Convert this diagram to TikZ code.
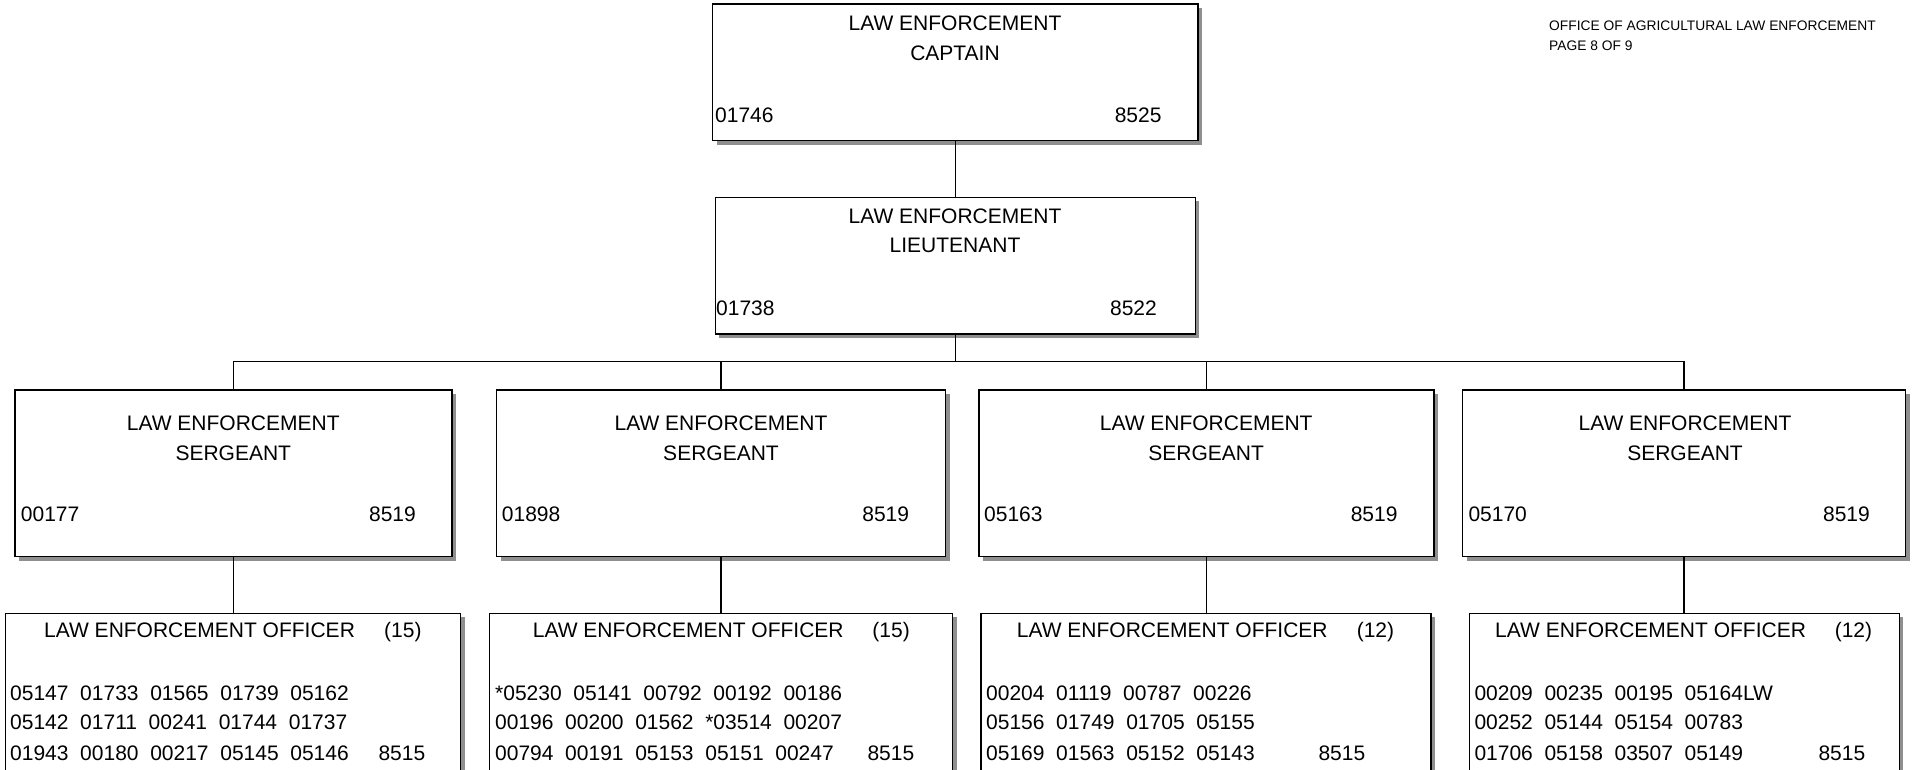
\documentclass[tikz,border=0pt]{standalone}
\usepackage{fontspec}
\setmainfont{Liberation Sans}
\usetikzlibrary{shadows}
\definecolor{shadowgray}{HTML}{8F8F8F}
\tikzset{
  orgbox/.style={draw, line width=1.5pt, fill=white, rectangle, inner sep=0pt,
    drop shadow={shadow xshift=4pt, shadow yshift=-4pt, fill=shadowgray, opacity=1}},
  lbl/.style={inner sep=0pt, font=\fontsize{21}{25}\selectfont},
  hdr/.style={inner sep=0pt, anchor=base west, font=\fontsize{13.8}{16}\selectfont},
  link/.style={line width=1.5pt},
}
\begin{document}
\begin{tikzpicture}[x=1pt, y=-1pt]
\useasboundingbox (0,0) rectangle (1915,769);

% ---------- boxes ----------
\node[orgbox, minimum width=485.3pt, minimum height=136.7pt] (cap) at (955.3,72.3) {};
\node[orgbox, minimum width=480pt,   minimum height=136.7pt] (lt)  at (955.3,265.7) {};

\node[orgbox, minimum width=436.6pt, minimum height=166.7pt] (s1) at (233.5,473.3) {};
\node[orgbox, minimum width=449pt,   minimum height=166.7pt] (s2) at (721.2,473.3) {};
\node[orgbox, minimum width=455pt,   minimum height=166.7pt] (s3) at (1206.5,473.3) {};
\node[orgbox, minimum width=443pt,   minimum height=166.7pt] (s4) at (1684.2,473.3) {};

\node[orgbox, minimum width=455.4pt, minimum height=170pt] (o1) at (233,698.3) {};
\node[orgbox, minimum width=463.4pt, minimum height=170pt] (o2) at (721,698.3) {};
\node[orgbox, minimum width=449.7pt, minimum height=170pt] (o3) at (1205.9,698.3) {};
\node[orgbox, minimum width=430pt,   minimum height=170pt] (o4) at (1684.3,698.3) {};

% ---------- connectors ----------
\coordinate (bus) at (955.3,361.7);
\draw[link] (cap.south) -- (lt.north);
\draw[link] (lt.south) -- (bus);
\draw[link] (s1.north) -- (s1.north |- bus) -- (s4.north |- bus) -- (s4.north);
\draw[link] (s2.north) -- (s2.north |- bus);
\draw[link] (s3.north) -- (s3.north |- bus);
\foreach \i in {1,2,3,4}
  \draw[link] (s\i.south) -- (s\i.south |- o\i.north);

% ---------- header ----------
\node[hdr] (h1) at (1549,30.7) {OFFICE OF AGRICULTURAL LAW ENFORCEMENT};
\node[hdr] (h2) at (1549,50) {PAGE 8 OF 9};

% ---------- captain ----------
\node[lbl, anchor=base] (capa) at (955,30) {LAW ENFORCEMENT};
\node[lbl, anchor=base] (capb) at (955,60.7) {CAPTAIN};
\node[lbl, anchor=base west] (capc) at (715,122) {01746};
\node[lbl, anchor=base east] (capd) at (1161.7,122) {8525};

% ---------- lieutenant ----------
\node[lbl, anchor=base] (lta) at (955,223.3) {LAW ENFORCEMENT};
\node[lbl, anchor=base] (ltb) at (955,252.7) {LIEUTENANT};
\node[lbl, anchor=base west] (ltc) at (716,315) {01738};
\node[lbl, anchor=base east] (ltd) at (1157,315) {8522};

% ---------- sergeants ----------
\foreach \n/\cx/\lx/\rx/\id in {1/233.3/20.7/416/00177, 2/721/501.7/909.3/01898,
                                 3/1206.2/984/1397.7/05163, 4/1685/1468.3/1870/05170}{
  \node[lbl, anchor=base] (s\n a) at (\cx,430.7) {LAW ENFORCEMENT};
  \node[lbl, anchor=base] (s\n b) at (\cx,460) {SERGEANT};
  \node[lbl, anchor=base west] (s\n c) at (\lx,521.7) {\id};
  \node[lbl, anchor=base east] (s\n d) at (\rx,521.7) {8519};
}

% ---------- officers ----------
\foreach \n/\tx/\cx/\cnt/\kx in {1/44/421.7/15/378.3, 2/532.7/910/15/867.3,
                                  3/1016.7/1394.3/12/1318.3, 4/1495/1872.3/12/1818.3}{
  \node[lbl, anchor=base west] (o\n t) at (\tx,637.3) {LAW ENFORCEMENT OFFICER};
  \node[lbl, anchor=base east] (o\n n) at (\cx,637.3) {(\cnt)};
  \node[lbl, anchor=base west] (o\n k) at (\kx,760) {8515};
}

\node[lbl, anchor=base west] (o1r1) at (10,700)   {05147~~01733~~01565~~01739~~05162};
\node[lbl, anchor=base west] (o1r2) at (10,729.3) {05142~~01711~~00241~~01744~~01737};
\node[lbl, anchor=base west] (o1r3) at (10,760)   {01943~~00180~~00217~~05145~~05146};

\node[lbl, anchor=base west] (o2r1) at (495,700)   {*05230~~05141~~00792~~00192~~00186};
\node[lbl, anchor=base west] (o2r2) at (495,729.3) {00196~~00200~~01562~~*03514~~00207};
\node[lbl, anchor=base west] (o2r3) at (495,760)   {00794~~00191~~05153~~05151~~00247};

\node[lbl, anchor=base west] (o3r1) at (986,700)   {00204~~01119~~00787~~00226};
\node[lbl, anchor=base west] (o3r2) at (986,729.3) {05156~~01749~~01705~~05155};
\node[lbl, anchor=base west] (o3r3) at (986,760)   {05169~~01563~~05152~~05143};

\node[lbl, anchor=base west] (o4r1) at (1474.3,700)   {00209~~00235~~00195~~05164LW};
\node[lbl, anchor=base west] (o4r2) at (1474.3,729.3) {00252~~05144~~05154~~00783};
\node[lbl, anchor=base west] (o4r3) at (1474.3,760)   {01706~~05158~~03507~~05149};
\end{tikzpicture}
\end{document}
